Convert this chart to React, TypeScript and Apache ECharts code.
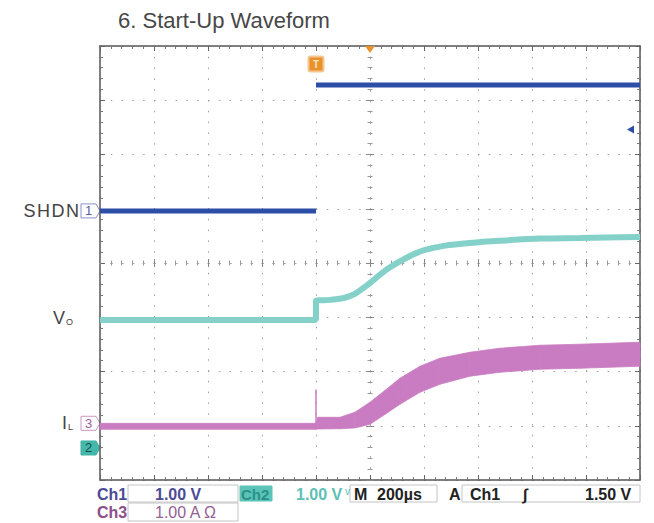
import React, { useEffect, useRef } from 'react';
import * as echarts from 'echarts';

// ---------- axis settings (time in µs, 200 µs/div; vertical in divisions) ----------
const X_MIN = -1000;
const X_MAX = 1000;
const X_STEP = 200;
const Y_MIN = -4;
const Y_MAX = 4;

// channel scale (units per division) and ground-marker position (divisions from centre)
const CH1_SCALE = 1.0;
const CH2_SCALE = 1.0;
const CH3_SCALE = 1.0;
const CH1_OFFSET = 0.96;
const CH2_OFFSET = -3.41;
const CH3_OFFSET = -3.01;

// ---------- Ch1 : SHDN (V) ----------
const shdnTime = [-1000, -200, -200, -200, 1000];
const shdnVolt: (number | null)[] = [0, 0, null, 2.32, 2.32];

// ---------- Ch2 : Vo (V) ----------
const voTime = [-1000, -200, -200, -148, -93, -56, -19, 19, 56, 93, 148, 204, 278, 370, 481, 630, 778, 1000];
const voVolt = [2.36, 2.36, 2.71, 2.73, 2.77, 2.84, 2.97, 3.12, 3.27, 3.39, 3.54, 3.65, 3.73, 3.78, 3.82, 3.86, 3.87, 3.89];

// ---------- Ch3 : IL (A), noisy band ----------
const ilTime = [-1000, -200, -193, -111, -56, 0, 56, 111, 185, 259, 370, 481, 630, 778, 1000];
const ilHigh = [0.055, 0.055, 0.166, 0.166, 0.258, 0.443, 0.664, 0.886, 1.107, 1.255, 1.365, 1.439, 1.494, 1.513, 1.55];
const ilLow = [-0.055, -0.055, -0.05, -0.045, -0.03, 0.037, 0.221, 0.406, 0.627, 0.775, 0.923, 0.996, 1.052, 1.07, 1.107];
const ilSpikeTime = [-200, -200];
const ilSpikeAmp = [0, 0.68];

// ---------- trigger ----------
const TRIGGER_TIME = -200;
const TRIGGER_LEVEL = 1.5;

const TITLE = '6. Start-Up Waveform';

const C_SHDN = '#2c4ea6';
const C_VO = '#84d1c9';
const C_IL = '#c97cc1';
const C_CH1 = '#4b4b96';
const C_CH3 = '#8c4d8a';
const FONT = '"Liberation Sans", Arial, sans-serif';

const toDiv = (v: number, scale: number, offset: number) => v / scale + offset;

export default function App() {
  const ref = useRef<HTMLDivElement>(null);

  useEffect(() => {
    document.body.style.margin = '0';
    const chart = echarts.init(ref.current!, undefined, { renderer: 'svg' });

    const xBase = { type: 'value', min: X_MIN, max: X_MAX, interval: X_STEP, gridIndex: 0, axisLabel: { show: false } };
    const yBase = { type: 'value', min: Y_MIN, max: Y_MAX, interval: 1, gridIndex: 0, axisLabel: { show: false } };
    const border = (extra: any) => ({
      axisLine: { show: true, onZero: false, lineStyle: { color: '#555', width: 1.5 } },
      axisTick: { show: true, inside: true, length: 5, lineStyle: { color: '#666', width: 1 } },
      minorTick: { show: true, splitNumber: 5, length: 3, lineStyle: { color: '#777', width: 1 } },
      ...extra,
    });
    const centre = (inside: boolean) => ({
      axisLine: { show: true, onZero: true, onZeroAxisIndex: 0, lineStyle: { color: '#aaa', width: 1, type: [1.5, 9.3] } },
      axisTick: { show: true, inside, length: 4, lineStyle: { color: '#888', width: 1 } },
      minorTick: { show: true, splitNumber: 5, length: 2.5, lineStyle: { color: '#999', width: 1 } },
      splitLine: { show: false },
    });
    const dotted = { show: true, lineStyle: { color: '#a0a0a0', width: 1, type: [1.5, 9.3] } };

    const ilSegments: number[][] = [];
    for (let i = 0; i < ilTime.length - 1; i++) {
      ilSegments.push([
        ilTime[i], toDiv(ilLow[i], CH3_SCALE, CH3_OFFSET), toDiv(ilHigh[i], CH3_SCALE, CH3_OFFSET),
        ilTime[i + 1], toDiv(ilLow[i + 1], CH3_SCALE, CH3_OFFSET), toDiv(ilHigh[i + 1], CH3_SCALE, CH3_OFFSET),
      ]);
    }

    const option: any = {
      animation: false,
      backgroundColor: '#ffffff',
      grid: { left: 100, top: 46, width: 540, height: 434 },
      xAxis: [
        { ...xBase, position: 'bottom', ...border({ splitLine: dotted }) },
        { ...xBase, position: 'top', ...border({ splitLine: { show: false } }) },
        { ...xBase, ...centre(true) },
        { ...xBase, ...centre(false) },
      ],
      yAxis: [
        { ...yBase, position: 'left', ...border({ splitLine: dotted }) },
        { ...yBase, position: 'right', ...border({ splitLine: { show: false } }) },
        { ...yBase, ...centre(true) },
        { ...yBase, ...centre(false) },
      ],
      series: [
        {
          type: 'custom',
          name: 'IL',
          xAxisIndex: 0,
          yAxisIndex: 0,
          z: 3,
          encode: { x: [0, 3], y: [1, 2, 4, 5] },
          data: ilSegments,
          renderItem: (_p: any, api: any) => {
            const pts = [
              api.coord([api.value(0), api.value(1)]),
              api.coord([api.value(3), api.value(4)]),
              api.coord([api.value(3), api.value(5)]),
              api.coord([api.value(0), api.value(2)]),
            ];
            return { type: 'polygon', shape: { points: pts }, style: { fill: C_IL, stroke: C_IL, lineWidth: 0.8 } };
          },
        },
        {
          type: 'line',
          name: 'IL spike',
          xAxisIndex: 0,
          yAxisIndex: 0,
          z: 3,
          showSymbol: false,
          lineStyle: { color: C_IL, width: 1.5 },
          data: ilSpikeTime.map((t, i) => [t, toDiv(ilSpikeAmp[i], CH3_SCALE, CH3_OFFSET)]),
        },
        {
          type: 'line',
          name: 'Vo',
          xAxisIndex: 0,
          yAxisIndex: 0,
          z: 4,
          showSymbol: false,
          smooth: 0.3,
          lineStyle: { color: C_VO, width: 6 },
          data: voTime.map((t, i) => [t, toDiv(voVolt[i], CH2_SCALE, CH2_OFFSET)]),
        },
        {
          type: 'line',
          name: 'SHDN',
          xAxisIndex: 0,
          yAxisIndex: 0,
          z: 5,
          showSymbol: false,
          connectNulls: false,
          lineStyle: { color: C_SHDN, width: 5 },
          data: shdnTime.map((t, i) => [t, shdnVolt[i] == null ? '-' : toDiv(shdnVolt[i] as number, CH1_SCALE, CH1_OFFSET)]),
        },
      ],
    };
    chart.setOption(option);

    const px = (t: number, d: number) => chart.convertToPixel({ xAxisIndex: 0, yAxisIndex: 0 }, [t, d]) as number[];
    const y1 = px(0, CH1_OFFSET)[1];
    const y2 = px(0, CH2_OFFSET)[1];
    const y3 = px(0, CH3_OFFSET)[1];
    const yVo = px(X_MIN, toDiv(voVolt[0], CH2_SCALE, CH2_OFFSET))[1];
    const xTrig = px(TRIGGER_TIME, 0)[0];
    const xCentre = px(0, 0)[0];
    const yTop = px(0, Y_MAX)[1];
    const xRight = px(X_MAX, 0)[0];
    const yLevel = px(0, toDiv(TRIGGER_LEVEL, CH1_SCALE, CH1_OFFSET))[1];

    const marker = (num: string, y: number, stroke: string, fill: string, txt: string) => ({
      type: 'group',
      x: 81,
      y,
      children: [
        { type: 'polygon', shape: { points: [[0, -7], [15, -7], [19, 0], [15, 7], [0, 7]] }, style: { fill, stroke, lineWidth: 1 } },
        { type: 'text', x: 7.5, y: 0, style: { text: num, fill: txt, font: `13px ${FONT}`, align: 'center', verticalAlign: 'middle' } },
      ],
    });

    const t = (text: string, x: number, y: number, fill: string, size = 16, weight = 'bold') => ({
      type: 'text',
      x,
      y,
      style: { text, fill, font: `${weight} ${size}px ${FONT}`, verticalAlign: 'middle' },
    });
    const box = (x: number, y: number, w: number, h: number, fill = 'none', stroke = '#c4c4c4') => ({
      type: 'rect', shape: { x, y, width: w, height: h }, style: { fill, stroke, lineWidth: 1 },
    });

    const graphic: any[] = [
      { type: 'text', x: 118, y: 20, style: { text: TITLE, fill: '#474747', font: `22px ${FONT}`, verticalAlign: 'middle' } },
      {
        type: 'text', x: 79, y: y1,
        style: {
          text: '{s|S}{s|H}{s|D}{n|N}', align: 'right', verticalAlign: 'middle',
          rich: {
            s: { font: `18px ${FONT}`, fill: '#444', padding: [0, 1.5, 0, 0] },
            n: { font: `18px ${FONT}`, fill: '#444' },
          },
        },
      },
      marker('1', y1, '#8a90c8', '#ffffff', '#5560a8'),
      {
        type: 'text', x: 53, y: yVo - 2,
        style: {
          text: '{a|V}{b|O}', verticalAlign: 'middle', fill: '#444',
          rich: {
            a: { font: `18px ${FONT}`, fill: '#444' },
            b: { font: `9px ${FONT}`, fill: '#444', padding: [8, 0, 0, 1] },
          },
        },
      },
      {
        type: 'text', x: 62, y: y3 - 3,
        style: {
          text: '{a|I}{b|L}', verticalAlign: 'middle', fill: '#444',
          rich: {
            a: { font: `18px ${FONT}`, fill: '#444' },
            b: { font: `9px ${FONT}`, fill: '#444', padding: [8, 0, 0, 1] },
          },
        },
      },
      marker('3', y3 - 3, '#c89ac4', '#ffffff', '#a060a0'),
      marker('2', y2, '#3fb3a6', '#45b8ab', '#11504a'),
      // trigger position "T"
      {
        type: 'group', x: xTrig, y: yTop + 18,
        children: [
          { type: 'rect', shape: { x: -7.5, y: -7.5, width: 15, height: 15, r: 2 }, style: { fill: '#e8922e', stroke: '#f6c68e', lineWidth: 2 } },
          { type: 'text', x: 0, y: 0.5, style: { text: 'T', fill: '#fde3c0', font: `bold 10px ${FONT}`, align: 'center', verticalAlign: 'middle' } },
        ],
      },
      // horizontal position marker
      { type: 'polygon', shape: { points: [[xCentre - 5, yTop], [xCentre + 5, yTop], [xCentre, yTop + 7]] }, style: { fill: '#e8922e' }, z: 10 },
      // trigger level arrow (Ch1)
      { type: 'polygon', shape: { points: [[xRight - 13, yLevel], [xRight - 6, yLevel - 4], [xRight - 6, yLevel + 4]] }, style: { fill: C_SHDN } },
      // status bar
      box(128, 485, 110, 17),
      box(350, 485, 87, 17),
      box(462, 485, 178, 17),
      box(128, 503, 110, 18),
      t('Ch1', 97, 494, C_CH1),
      t('1.00 V', 155, 494, C_CH1),
      box(240, 486, 32, 15, '#5cc3b9', '#5cc3b9'),
      t('Ch2', 241, 494, '#2b9087', 15),
      t('1.00 V', 296, 494, '#5dbfb5'),
      t('v', 345, 491, '#5dbfb5', 10, 'normal'),
      t('M', 354, 494, '#222'),
      t('200µs', 377, 494, '#222'),
      t('A', 449, 494, '#222'),
      t('Ch1', 470, 494, '#222'),
      t('∫', 523, 494, '#222', 16),
      t('1.50 V', 585, 494, '#222'),
      t('Ch3', 97, 512, C_CH3),
      t('1.00 A Ω', 155, 512, '#946094', 16, 'normal'),
    ];
    chart.setOption({ graphic });

    return () => chart.dispose();
  }, []);

  return <div ref={ref} style={{ width: 654, height: 523 }} />;
}
